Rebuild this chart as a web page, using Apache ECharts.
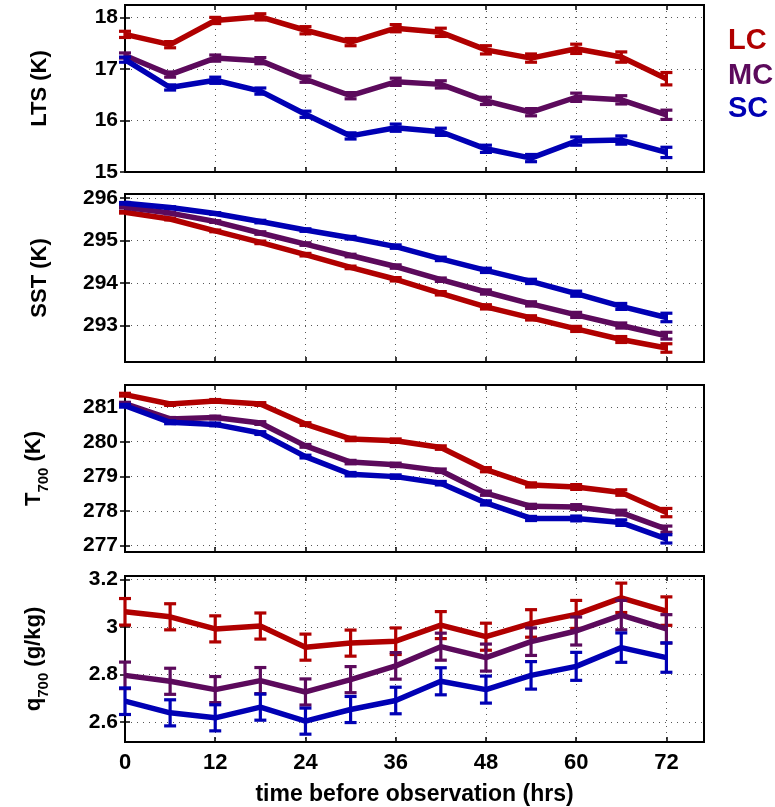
<!DOCTYPE html>
<html><head><meta charset="utf-8">
<script src="https://cdn.jsdelivr.net/npm/echarts@6/dist/echarts.min.js"></script>
<style>html,body{margin:0;padding:0;background:#fff}#c{width:775px;height:807px}</style>
</head><body><div id="c"></div>
<script>
const hours = [0,6,12,18,24,30,36,42,48,54,60,66,72];
const xTicks = [0,12,24,36,48,60,72];
const seriesNames = ['LC','MC','SC'];
const colors = ['#B00000','#5C0A5C','#0000B4'];

// LTS (K)
const ltsLC = [17.67,17.47,17.94,18.01,17.75,17.52,17.79,17.71,17.37,17.21,17.39,17.23,16.81];
const ltsMC = [17.26,16.89,17.21,17.16,16.80,16.48,16.75,16.70,16.38,16.16,16.45,16.40,16.11];
const ltsSC = [17.18,16.64,16.78,16.57,16.12,15.70,15.86,15.78,15.45,15.27,15.60,15.62,15.38];
const ltsErrLC = [0.06,0.06,0.06,0.06,0.07,0.07,0.07,0.08,0.08,0.08,0.09,0.10,0.12];
const ltsErrMC = [0.05,0.05,0.06,0.06,0.06,0.06,0.07,0.07,0.07,0.07,0.08,0.08,0.09];
const ltsErrSC = [0.05,0.05,0.06,0.06,0.06,0.06,0.07,0.07,0.07,0.07,0.08,0.08,0.10];
const ltsTicks = [15,16,17,18];

// SST (K)
const sstLC = [295.67,295.51,295.23,294.96,294.67,294.37,294.09,293.76,293.44,293.18,292.92,292.67,292.47];
const sstMC = [295.79,295.65,295.45,295.18,294.92,294.65,294.39,294.08,293.79,293.51,293.25,293.00,292.76];
const sstSC = [295.88,295.78,295.64,295.45,295.25,295.07,294.86,294.57,294.30,294.04,293.75,293.45,293.19];
const sstErrLC = [0.02,0.02,0.02,0.03,0.03,0.03,0.04,0.04,0.05,0.05,0.06,0.07,0.10];
const sstErrMC = [0.02,0.02,0.02,0.03,0.03,0.03,0.04,0.04,0.05,0.05,0.06,0.06,0.08];
const sstErrSC = [0.02,0.02,0.02,0.03,0.03,0.03,0.04,0.04,0.05,0.05,0.06,0.07,0.10];
const sstTicks = [293,294,295,296];

// T700 (K)
const t7LC = [281.36,281.09,281.18,281.09,280.51,280.08,280.03,279.83,279.19,278.75,278.69,278.53,277.95];
const t7MC = [281.10,280.66,280.70,280.54,279.88,279.41,279.33,279.16,278.51,278.13,278.11,277.95,277.47];
const t7SC = [281.04,280.56,280.50,280.25,279.57,279.06,278.99,278.80,278.23,277.78,277.78,277.66,277.19];
const t7ErrLC = [0.04,0.04,0.04,0.04,0.04,0.05,0.05,0.05,0.06,0.06,0.07,0.08,0.12];
const t7ErrMC = [0.04,0.04,0.04,0.04,0.04,0.05,0.05,0.05,0.06,0.06,0.07,0.07,0.09];
const t7ErrSC = [0.04,0.04,0.04,0.04,0.04,0.05,0.05,0.05,0.06,0.06,0.07,0.08,0.12];
const t7Ticks = [277,278,279,280,281];

// q700 (g/kg)
const q7LC = [3.064,3.043,2.992,3.004,2.915,2.932,2.940,3.008,2.959,3.015,3.053,3.123,3.067];
const q7MC = [2.796,2.771,2.736,2.774,2.726,2.778,2.836,2.917,2.871,2.938,2.983,3.050,2.992];
const q7SC = [2.687,2.638,2.617,2.662,2.603,2.652,2.690,2.771,2.736,2.796,2.834,2.913,2.871];
const q7ErrLC = [0.056,0.055,0.055,0.055,0.055,0.055,0.056,0.057,0.057,0.058,0.059,0.062,0.060];
const q7ErrMC = [0.056,0.055,0.055,0.055,0.055,0.055,0.056,0.057,0.057,0.058,0.059,0.062,0.060];
const q7ErrSC = [0.056,0.055,0.055,0.055,0.055,0.055,0.056,0.057,0.057,0.058,0.059,0.062,0.062];
const q7Ticks = [2.6,2.8,3.0,3.2];
const q7Labels = ['2.6','2.8','3','3.2'];

const panels = [
  {vals:[ltsLC,ltsMC,ltsSC], errs:[ltsErrLC,ltsErrMC,ltsErrSC], min:15, max:18.24, ticks:ltsTicks, fmt:v=>String(v),
   name:'LTS (K)', top:5, height:167},
  {vals:[sstLC,sstMC,sstSC], errs:[sstErrLC,sstErrMC,sstErrSC], min:292.14, max:296.1, ticks:sstTicks, fmt:v=>String(v),
   name:'SST (K)', top:194, height:168},
  {vals:[t7LC,t7MC,t7SC], errs:[t7ErrLC,t7ErrMC,t7ErrSC], min:276.81, max:281.64, ticks:t7Ticks, fmt:v=>String(v),
   name:'{a|T}{s|700}{a| (K)}', top:385, height:167},
  {vals:[q7LC,q7MC,q7SC], errs:[q7ErrLC,q7ErrMC,q7ErrSC], min:2.515, max:3.215, ticks:q7Ticks, fmt:v=>q7Labels[q7Ticks.findIndex(t=>Math.abs(t-v)<1e-6)],
   name:'{a|q}{s|700}{a| (g/kg)}', top:576, height:167}
];

const FONT = 'Liberation Sans, Arial, sans-serif';
const grid=[], xAxis=[], yAxis=[], series=[];
const dotted = {show:true, lineStyle:{color:'#555', width:1, type:[1,5]}};
const rich = {
  a:{fontFamily:FONT, fontWeight:'bold', fontSize:22, color:'#000', lineHeight:28, verticalAlign:'top'},
  s:{fontFamily:FONT, fontWeight:'bold', fontSize:15, color:'#000', lineHeight:28, verticalAlign:'bottom'}
};

panels.forEach((p,i)=>{
  grid.push({left:125, width:579, top:p.top, height:p.height, show:true, borderColor:'#000', borderWidth:2, backgroundColor:'transparent', containLabel:false});
  const last = i===panels.length-1;
  xAxis.push({type:'value', gridIndex:i, min:0, max:77, position:'bottom',
    axisLine:{show:true, onZero:false, lineStyle:{color:'#000', width:2}},
    axisTick:{show:true, inside:true, length:5, customValues:xTicks, lineStyle:{color:'#000', width:1.5}},
    axisLabel:{show:last, customValues:xTicks, fontFamily:FONT, fontWeight:'bold', fontSize:22, color:'#000', margin:10},
    splitLine:dotted,
    name: last ? 'time before observation (hrs)' : '', nameLocation:'middle', nameGap:41,
    nameTextStyle:{fontFamily:FONT, fontWeight:'bold', fontSize:23, color:'#000'}
  });
  xAxis.push({type:'value', gridIndex:i, min:0, max:77, position:'top',
    axisLine:{show:false}, axisTick:{show:true, inside:true, length:5, customValues:xTicks, lineStyle:{color:'#000', width:1.5}},
    axisLabel:{show:false}, splitLine:{show:false}});
  yAxis.push({type:'value', gridIndex:i, min:p.min, max:p.max, position:'left',
    axisLine:{show:true, onZero:false, lineStyle:{color:'#000', width:2}},
    axisTick:{show:true, inside:true, length:5, customValues:p.ticks, lineStyle:{color:'#000', width:1.5}},
    axisLabel:{show:true, customValues:p.ticks, formatter:p.fmt, fontFamily:FONT, fontWeight:'bold', fontSize:21, color:'#000', margin:7},
    splitLine:dotted,
    name:p.name, nameLocation:'middle', nameRotate:90, nameGap:74,
    nameTextStyle:{fontFamily:FONT, fontWeight:'bold', fontSize:22, color:'#000', rich:rich}
  });
  yAxis.push({type:'value', gridIndex:i, min:p.min, max:p.max, position:'right',
    axisLine:{show:false}, axisTick:{show:true, inside:true, length:5, customValues:p.ticks, lineStyle:{color:'#000', width:1.5}},
    axisLabel:{show:false}, splitLine:{show:false}});
  const xi = 2*i, yi = 2*i;
  p.vals.forEach((vals,k)=>{
    const data = hours.map((h,j)=>[h, vals[j], vals[j]-p.errs[k][j], vals[j]+p.errs[k][j]]);
    series.push({type:'line', name:seriesNames[k], xAxisIndex:xi, yAxisIndex:yi, data:data.map(d=>[d[0],d[1]]),
      showSymbol:false, symbol:'none', lineStyle:{color:colors[k], width:5.5}, z:2+k, animation:false});
    series.push({type:'custom', xAxisIndex:xi, yAxisIndex:yi, data:data, z:2+k, animation:false,
      encode:{x:0, y:[1,2,3]},
      renderItem:(params, api)=>{
        const x = api.value(0);
        const lo = api.coord([x, api.value(2)]);
        const hi = api.coord([x, api.value(3)]);
        const hw = 6;
        const st = {stroke:colors[k], lineWidth:3.2, fill:null};
        return {type:'group', children:[
          {type:'line', shape:{x1:lo[0], y1:lo[1], x2:hi[0], y2:hi[1]}, style:st},
          {type:'line', shape:{x1:lo[0]-hw, y1:lo[1], x2:lo[0]+hw, y2:lo[1]}, style:st},
          {type:'line', shape:{x1:hi[0]-hw, y1:hi[1], x2:hi[0]+hw, y2:hi[1]}, style:st}
        ]};
      }});
  });
});

const legendY = [26, 61, 94];
const graphic = seriesNames.map((n,k)=>({type:'text', left:728, top:legendY[k],
  style:{text:n, fill:colors[k], font:'bold 29px '+FONT}}));

const chart = echarts.init(document.getElementById('c'), null, {renderer:'canvas'});
chart.setOption({animation:false, backgroundColor:'#fff', grid, xAxis, yAxis, series, graphic});
</script></body></html>
